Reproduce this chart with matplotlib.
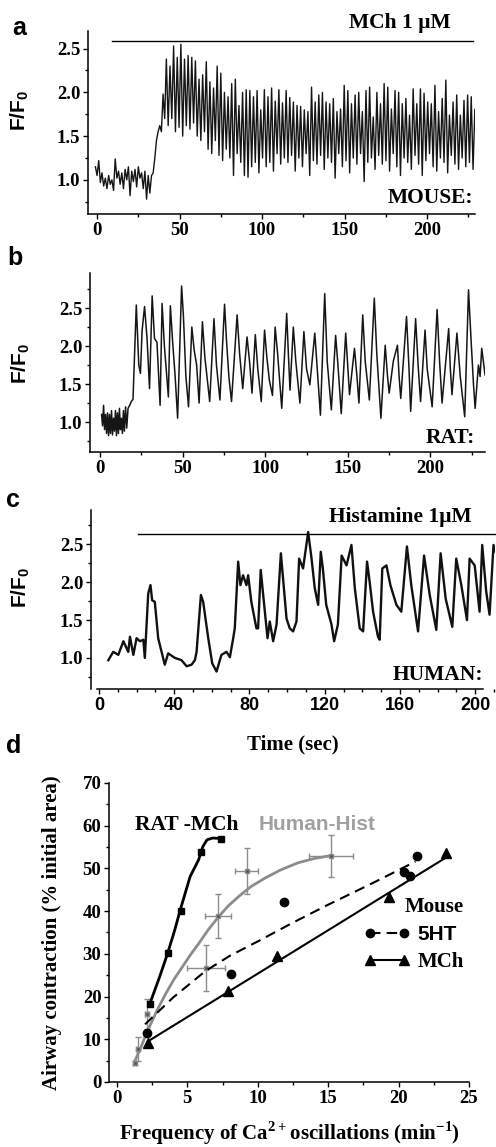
"""Ca2+ oscillation traces (mouse, rat, human) and contraction vs frequency."""

import matplotlib

matplotlib.use("Agg")
import matplotlib.pyplot as plt
import numpy as np
from matplotlib.ticker import MultipleLocator

SERIF = "Liberation Serif"
SANS = "Liberation Sans"
GREY = "#8c8c8c"

# ---- panel a: mouse slice, MCh 1 uM (baseline sampled every 1 s, then peak/trough pairs)
MOUSE_BASE_T0 = -1.0
MOUSE_BASE_DT = 1.0
MOUSE_BASE = [1.15, 1.05, 1.22, 0.97, 1.08, 0.93, 1.02, 0.90, 1.05, 0.95,
              1.00, 0.88, 1.24, 1.02, 1.10, 0.95, 1.08, 0.90, 1.12, 1.00,
              1.15, 0.82, 1.10, 0.98, 1.12, 0.92, 1.15, 1.02, 1.08, 0.90,
              1.10, 0.78, 1.05, 0.85, 1.05, 1.08, 1.25, 1.45, 1.55, 1.62,
              1.55, 1.98, 1.70]
MOUSE_OSC_T0 = 42.0
MOUSE_OSC_DT = 1.1
MOUSE_PEAKS = [2.38, 2.30, 2.53, 2.40, 2.55, 2.38, 2.42, 2.40,
               2.36, 2.15, 2.20, 2.35, 2.12, 2.05, 2.30,
               2.22, 2.00, 1.95, 2.10, 2.15, 1.85, 2.00,
               2.03, 2.02, 1.95, 2.02, 1.80, 2.03, 1.95, 2.05, 1.90, 2.03, 1.88,
               2.02, 1.94, 1.89, 1.85, 1.84, 1.80, 1.78, 2.06, 1.89, 1.97,
               2.00, 1.89, 1.87, 1.93, 1.78, 1.81, 2.08, 2.02, 1.87, 1.97,
               2.00, 1.78, 2.02, 2.06, 1.72, 2.00, 1.87, 2.10, 2.06, 1.81,
               2.02, 2.00, 1.87, 1.93, 1.74, 2.04, 1.87, 2.04, 1.99, 1.89,
               1.87, 2.08, 1.78, 1.93, 2.14, 1.74, 1.89, 1.97, 1.74, 1.91,
               1.97, 1.95, 1.81]
MOUSE_TROUGHS = [1.62, 1.70, 1.55, 1.60, 1.50, 1.62, 1.58, 1.65,
                 1.50, 1.45, 1.55, 1.35, 1.30, 1.45, 1.28,
                 1.22, 1.35, 1.25, 1.05, 1.30, 1.20, 1.05,
                 1.03, 1.15, 1.20, 1.08, 1.25, 1.15, 1.20, 1.10, 1.30, 1.18, 1.25,
                 1.20, 1.28, 1.10, 1.25, 1.15, 1.30, 1.05, 1.22, 1.18, 1.28,
                 1.12, 1.25, 1.20, 1.02, 1.30, 1.15, 1.22, 1.08, 1.25, 1.18,
                 1.30, 0.98, 1.20, 1.25, 1.12, 1.28, 1.18, 1.22, 1.10, 1.30,
                 1.15, 1.05, 1.25, 1.20, 1.12, 1.28, 1.18, 1.05, 1.22, 1.30,
                 1.15, 1.10, 1.25, 1.20, 1.08, 1.28, 1.18, 1.12, 1.25, 1.15,
                 1.20, 1.12, 1.30]

# ---- panel b: rat slice
RAT_T = [1.0, 1.6, 2.2, 2.8, 3.4, 4.0, 4.6, 5.2, 5.8, 6.4, 7.0, 7.6, 8.2, 8.8,
         9.4, 10.0, 10.6, 11.2, 11.8, 12.4, 13.0, 13.6, 14.2, 14.8, 15.5, 16.2,
         17.0, 18.0, 19.0, 20.0,
         22.0, 23.5, 24.5, 25.5, 27.0, 28.5, 30.0, 31.6, 33.0, 34.5, 36.4, 37.6,
         39.0, 41.4, 42.6, 44.0, 45.5, 47.0, 49.4, 50.5, 52.0, 53.6, 55.6, 57.0,
         58.5, 60.0, 62.0, 63.5, 65.0, 66.4, 69.0, 70.5, 72.6, 75.4, 76.5, 78.0,
         79.6, 83.0, 84.5, 86.4, 89.0, 90.5, 92.0, 94.0, 95.5, 97.6, 99.6, 101.0,
         102.5, 104.4, 106.0, 107.5, 110.0, 113.0, 114.0, 115.0, 117.0, 118.5,
         121.0, 123.4, 125.0, 127.0, 130.0, 131.5, 133.4, 136.0, 137.5, 140.0,
         142.6, 144.0, 146.0, 148.7, 150.0, 151.0, 154.0, 155.5, 156.7, 159.0,
         160.5, 163.0, 166.0, 167.5, 170.0, 172.6, 174.0, 175.0, 177.5, 180.0,
         181.0, 182.0, 185.5, 187.0, 188.0, 191.0, 192.5, 194.0, 196.7, 198.0,
         201.0, 204.0, 205.5, 207.0, 211.0, 212.0, 213.0, 216.0, 218.0, 220.7,
         223.0, 224.5, 226.0, 227.0, 229.0, 230.0, 231.0, 232.0, 233.0]
RAT_F = [1.10, 0.95, 1.22, 0.90, 1.10, 0.85, 1.12, 0.82, 1.10, 0.85, 1.15, 0.83,
         1.05, 0.88, 1.15, 0.82, 1.12, 0.85, 1.18, 0.90, 1.05, 0.85, 1.15, 0.88,
         1.20, 0.92, 1.18, 1.22, 1.27, 1.30,
         2.54, 1.75, 1.64, 2.20, 2.52, 2.10, 1.44, 2.66, 2.10, 2.05, 1.22, 2.56,
         2.00, 1.33, 2.53, 2.05, 1.60, 1.05, 2.79, 2.40, 1.60, 1.20, 2.25, 1.95,
         1.75, 1.25, 2.32, 1.85, 1.55, 1.27, 2.36, 1.75, 1.29, 2.55, 2.10, 1.60,
         1.27, 2.41, 1.90, 1.44, 2.12, 1.80, 1.38, 2.15, 1.70, 1.27, 2.21, 1.85,
         1.55, 1.35, 2.25, 1.90, 1.18, 2.43, 1.90, 1.42, 2.25, 1.80,
         1.25, 2.19, 1.70, 1.49, 2.17, 1.70, 1.09, 2.69, 1.80, 1.16,
         2.14, 1.75, 1.11, 2.17, 1.70, 1.36, 1.97, 1.60, 1.25, 2.41,
         1.80, 1.29, 2.63, 1.90, 1.05, 2.01, 1.60, 1.38, 1.80, 2.01,
         1.60, 1.31, 2.39, 1.70, 1.14, 2.36, 1.75, 1.27, 2.21, 1.70,
         1.20, 2.48, 1.80, 1.25, 2.23, 1.70, 1.36, 2.17, 1.60, 1.07,
         2.74, 2.10, 1.50, 1.18, 1.75, 1.60, 1.97, 1.80, 1.62]

# ---- panel c: human slice, histamine 1 uM
HUMAN_T = [5.0, 7.6, 10.3, 13.0, 15.6, 16.5, 18.3, 20.0, 21.8, 23.6, 24.4, 26.2,
           27.4, 28.3, 29.7, 31.5, 33.3, 35.0, 36.8, 40.4, 43.9, 46.6, 49.2, 51.0,
           51.9, 54.2, 55.4, 58.1, 60.2, 62.5, 65.1, 67.8, 69.6, 71.3, 72.2, 74.0,
           75.2, 76.6, 78.4, 79.3, 81.0, 83.7, 84.6, 86.0, 87.3, 89.6, 90.8, 92.6,
           94.4, 96.7, 99.7, 101.4, 103.2, 105.0, 106.4, 108.5, 111.2, 113.0, 114.7,
           116.5, 117.9, 119.0, 120.8, 123.6, 125.0, 127.0, 129.0, 131.6, 134.2,
           136.0, 138.6, 140.4, 142.5, 143.9, 145.7, 148.3, 149.2, 150.6, 152.8,
           154.9, 158.1, 160.7, 163.7, 166.0, 169.6, 172.8, 175.8, 179.3, 181.6,
           184.3, 187.8, 189.9, 192.6, 195.6, 197.0, 199.7, 202.3, 203.7, 205.8,
           207.6, 209.7, 210.8]
HUMAN_F = [0.97, 1.08, 1.04, 1.22, 1.08, 1.28, 1.04, 1.26, 1.22, 1.24, 1.00, 1.85,
           1.96, 1.76, 1.74, 1.26, 1.08, 0.91, 1.06, 1.00, 0.97, 0.89, 0.91, 0.97,
           1.08, 1.83, 1.74, 1.26, 0.93, 0.82, 1.04, 1.08, 1.01, 1.25, 1.39, 2.27,
           1.96, 2.09, 1.96, 2.09, 1.74, 1.39, 1.39, 2.16, 1.83, 1.26, 1.48, 1.22,
           1.44, 2.38, 1.52, 1.39, 1.35, 1.48, 2.31, 2.18, 2.66, 2.31, 1.92,
           1.70, 2.40, 2.18, 1.70, 1.44, 1.22, 1.44, 2.35, 2.22, 2.49,
           1.92, 1.39, 1.35, 2.27, 2.00, 1.61, 1.28, 1.24, 2.18, 2.22,
           1.96, 1.70, 1.61, 2.47, 1.96, 1.35, 2.35, 1.83, 1.37, 2.38,
           1.78, 1.41, 2.31, 1.96, 1.50, 2.31, 2.22, 1.61, 2.49, 1.88,
           1.57, 2.49, 2.40]

# ---- panel d: contraction vs frequency
RAT_FREQ = [2.35, 3.6, 4.55, 6.0, 7.4]
RAT_CONTR = [18.3, 30.2, 40.0, 53.9, 56.9]
RAT_FIT_X = [2.3, 3.0, 3.6, 4.1, 4.5, 5.2, 5.8, 6.1, 6.4, 6.8, 7.4]
RAT_FIT_Y = [18.0, 24.3, 30.1, 35.5, 40.3, 48.1, 52.0, 55.1, 56.7, 57.1, 57.0]

HUMAN_FREQ = [1.26, 1.5, 2.15, 6.35, 7.16, 9.22, 15.2]
HUMAN_CONTR = [4.4, 7.7, 15.9, 26.6, 38.9, 49.4, 52.9]
HUMAN_FREQ_ERR = [0.1, 0.15, 0.15, 1.35, 0.92, 0.8, 1.58]
HUMAN_CONTR_ERR = [0.5, 2.8, 3.5, 5.4, 5.2, 5.3, 5.0]
HUMAN_FIT_X = [1.26, 1.5, 1.73, 2.0, 2.32, 2.9, 3.49, 4.05, 4.66, 5.25, 5.83,
               6.5, 7.23, 7.9, 8.64, 9.5, 10.5, 11.6, 12.85, 14.0, 15.2]
HUMAN_FIT_Y = [4.8, 6.6, 8.3, 10.6, 13.0, 17.1, 20.8, 24.0, 27.0, 29.9, 32.5,
               35.7, 38.7, 41.2, 43.4, 45.7, 47.7, 49.6, 51.3, 52.3, 53.0]

HT_FREQ = [2.15, 8.1, 11.85, 20.4, 20.8, 21.3]
HT_CONTR = [11.4, 25.2, 42.1, 49.1, 48.2, 52.9]
HT_FIT_X = [2.0, 4.0, 6.3, 8.0, 10.0, 12.5, 15.0, 18.0, 21.2]
HT_FIT_Y = [13.5, 19.8, 26.0, 29.5, 32.9, 37.3, 41.5, 46.3, 51.6]

MCH_FREQ = [2.2, 7.9, 11.4, 19.3, 23.4]
MCH_CONTR = [9.2, 21.2, 29.5, 43.2, 53.7]
MCH_FIT_X = [2.2, 23.3]
MCH_FIT_Y = [9.5, 52.4]


def interleave(peaks, troughs):
    """Return peaks and troughs merged as p0, t0, p1, t1, ..."""
    values = np.empty(len(peaks) + len(troughs))
    values[0::2] = peaks
    values[1::2] = troughs
    return values


def style_axes(ax, xmajor, xminor, ymajor, yminor):
    for side in ("top", "right"):
        ax.spines[side].set_visible(False)
    for side in ("left", "bottom"):
        ax.spines[side].set_linewidth(1.1)
    ax.xaxis.set_major_locator(MultipleLocator(xmajor))
    ax.xaxis.set_minor_locator(MultipleLocator(xminor))
    ax.yaxis.set_major_locator(MultipleLocator(ymajor))
    ax.yaxis.set_minor_locator(MultipleLocator(yminor))
    ax.tick_params(which="major", direction="out", length=3.5, width=1.0,
                   labelsize=13.5, pad=2)
    ax.tick_params(which="minor", direction="out", length=2.0, width=1.0)


def trace_axes(ax, xlim, ylim, label_y):
    ax.set_xlim(*xlim)
    ax.set_ylim(*ylim)
    style_axes(ax, 50, 25, 0.5, 0.25)
    ax.yaxis.set_major_formatter("{x:.1f}")
    ax.set_ylabel(r"F/F$_\mathregular{0}$", fontfamily=SANS, fontsize=15)
    ax.yaxis.set_label_coords(-0.147, label_y)


def main():
    plt.rcParams.update({
        "font.family": [SERIF, "DejaVu Serif"],
        "font.weight": "bold",
        "axes.labelweight": "bold",
    })
    fig = plt.figure(figsize=(4.96, 11.47), dpi=100)

    # a: mouse
    ax = fig.add_axes([0.1774, 0.8134, 0.780, 0.1595])
    base_t = MOUSE_BASE_T0 + MOUSE_BASE_DT * np.arange(len(MOUSE_BASE))
    osc = interleave(MOUSE_PEAKS, MOUSE_TROUGHS)
    osc_t = MOUSE_OSC_T0 + MOUSE_OSC_DT * np.arange(len(osc))
    ax.plot(np.concatenate([base_t, osc_t]), np.concatenate([MOUSE_BASE, osc]),
            color="#151515", lw=1.0)
    trace_axes(ax, (-5.5, 229), (0.61, 2.70), 0.568)
    ax.plot([9, 228], [2.59, 2.59], color="black", lw=1.0, clip_on=False)
    ax.text(183.6, 2.73, "MCh 1 \u00b5M", ha="center", va="baseline", fontsize=15.5)
    ax.text(228, 0.74, "MOUSE:", ha="right", va="baseline", fontsize=15.5)

    # b: rat
    ax = fig.add_axes([0.1815, 0.6059, 0.7964, 0.156])
    ax.plot(RAT_T, RAT_F, color="#151515", lw=1.1)
    trace_axes(ax, (-6, 233), (0.605, 2.96), 0.497)
    ax.text(227, 0.72, "RAT:", ha="right", va="baseline", fontsize=15.5)

    # c: human
    ax = fig.add_axes([0.1835, 0.3993, 0.8145, 0.156])
    ax.plot(HUMAN_T, HUMAN_F, color="#111111", lw=1.7)
    trace_axes(ax, (-4.2, 210.5), (0.59, 2.95), 0.57)
    ax.xaxis.set_major_locator(MultipleLocator(40))
    ax.xaxis.set_minor_locator(MultipleLocator(10))
    ax.tick_params(axis="x", labelfontfamily=SANS, labelsize=13)
    ax.spines["bottom"].set_bounds(-1, 204)
    ax.plot([21, 210.5], [2.64, 2.64], color="black", lw=1.0, clip_on=False)
    ax.text(160.3, 2.79, "Histamine 1\u00b5M", ha="center", va="baseline",
            fontsize=15.5)
    ax.text(204, 0.71, "HUMAN:", ha="right", va="baseline", fontsize=15.5)
    ax.set_xlabel("Time (sec)", fontsize=15, labelpad=15)

    # d: contraction vs frequency
    ax = fig.add_axes([0.2198, 0.0567, 0.7258, 0.2607])
    ax.set_xlim(-0.56, 25)
    ax.set_ylim(0, 70)
    style_axes(ax, 5, 2.5, 10, 5)
    ax.errorbar(HUMAN_FREQ, HUMAN_CONTR, xerr=HUMAN_FREQ_ERR, yerr=HUMAN_CONTR_ERR,
                fmt="none", ecolor=GREY, elinewidth=1.0, capsize=2, capthick=1.0)
    ax.plot(HUMAN_FIT_X, HUMAN_FIT_Y, color=GREY, lw=2.0)
    ax.plot(HUMAN_FREQ, HUMAN_CONTR, ls="none", marker="s", ms=3.5,
            mfc="#555555", mec=GREY, mew=1.0)
    ax.plot(RAT_FIT_X, RAT_FIT_Y, color="black", lw=2.0)
    ax.plot(RAT_FREQ, RAT_CONTR, ls="none", marker="s", ms=4.5, color="black")
    ht_fit, = ax.plot(HT_FIT_X, HT_FIT_Y, color="black", lw=1.5, ls=(0, (5, 3)))
    ht_pts, = ax.plot(HT_FREQ, HT_CONTR, ls="none", marker="o", ms=6, color="black")
    mch_fit, = ax.plot(MCH_FIT_X, MCH_FIT_Y, color="black", lw=1.5)
    mch_pts, = ax.plot(MCH_FREQ, MCH_CONTR, ls="none", marker="^", ms=6.5,
                       color="black")

    ax.text(1.26, 59, "RAT -MCh", ha="left", va="baseline", fontsize=15.5)
    ax.text(10.04, 59, "Human-Hist", ha="left", va="baseline", fontsize=15,
            fontfamily=SANS, color="#a0a0a0")

    leg = ax.legend([(ht_pts, ht_fit), (mch_pts, mch_fit)], ["5HT", "MCh"],
                    title="Mouse", numpoints=2, frameon=False, handlelength=2.2,
                    handletextpad=0.35, labelspacing=0.4, borderpad=0.0,
                    alignment="right", loc="upper left",
                    bbox_to_anchor=(0.68, 0.655), fontsize=15,
                    title_fontproperties={"family": SERIF, "weight": "bold",
                                          "size": 15})
    leg.get_texts()[0].set_fontfamily(SANS)

    ax.set_xlabel(r"Frequency of Ca$^\mathregular{2+}$oscillations (min$^\mathregular{-1}$)",
                  fontsize=15, labelpad=9)
    ax.set_ylabel("Airway contraction (% initial area)", fontsize=15)
    ax.yaxis.set_label_coords(-0.13, 0.5)

    for letter, x, y in (("a", 12, 35), ("b", 7, 265), ("c", 6, 507), ("d", 6, 753)):
        fig.text(x / 496, 1 - y / 1147, letter, fontfamily=SANS, fontsize=18,
                 fontweight="bold", ha="left", va="baseline")

    fig.savefig("out.png", dpi=100)
    plt.close(fig)


if __name__ == "__main__":
    main()
